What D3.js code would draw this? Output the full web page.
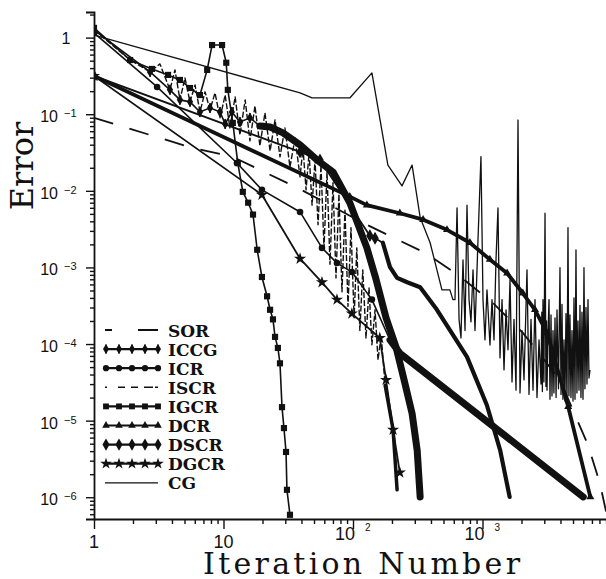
<!DOCTYPE html>
<html>
<head>
<meta charset="utf-8">
<script src="https://cdn.jsdelivr.net/npm/d3@7"></script>
<style>
  body { margin: 0; background: #fff; }
  svg { display: block; }
</style>
</head>
<body>
<div id="chart"></div>
<script>
// ---- data: [iteration, error] ----
const sorData = [[1,0.0896],[5.8,0.0362],[11.8,0.0278],[39,0.0105],[128,0.0036],[360,0.00155],[647,0.0008],
  [1190,0.00035],[2050,0.00014],[3960,0.000034],[6530,0.0000048],[8080,0.0000015],[9000,0.00000065]];

const iccgData = [[1,1.26],[2.71,0.357],[3.86,0.208],[4.61,0.154],[5.51,0.145],[6.58,0.107],[7.87,0.121],
  [9.4,0.107],[10.3,0.0747],[11.6,0.107],[13.4,0.0794],[16.0,0.0896],[19.1,0.0704],[22.9,0.068],[28.8,0.057],
  [39,0.0398],[52.7,0.0253],[70.1,0.0176],[94.5,0.0070],[128,0.0018],[151,0.00069],[180,0.00022],
  [215,0.000091],[248,0.000034],[286,0.0000124],[313,0.0000041],[330,0.00000101]];

const icrData = [[1,1.15],[3.07,0.227],[12.7,0.0231],[19.8,0.0103],[39,0.0053],[57.6,0.0018],[75.2,0.00114],
  [98,0.00087],[140,0.00038],[193,0.000113],[230,0.000076],[6000,0.00000101]];

const iscrData = [[1,1.26],[1.90,0.512],[2.71,0.357],[3.23,0.454],[3.86,0.208],[4.22,0.379],[4.61,0.154],
  [5.04,0.297],[5.51,0.145],[6.03,0.241],[6.58,0.107],[7.20,0.196],[7.87,0.114],[8.6,0.190],[9.4,0.0896],
  [10.3,0.178],[11.2,0.0663],[12.3,0.168],[13.4,0.0537],[14.7,0.154],[16.0,0.0449],[17.5,0.128],[19.1,0.0386],
  [20.9,0.104],[22.9,0.0332],[25.0,0.0843],[27.3,0.0278],[29.8,0.0663],[32.6,0.0204],[35.7,0.049],[39.0,0.0152],
  [41.1,0.0362],[43.4,0.0103],[45.8,0.0313],[48.3,0.0065],[50.9,0.0253],[53.7,0.0036],[56.6,0.0217],[59.7,0.0018],
  [63.0,0.0176],[66.4,0.0011],[70.1,0.0128],[73.9,0.00073],[77.9,0.0091],[82.2,0.00048],[86.7,0.0056],
  [91.5,0.00031],[96.5,0.0033],[102,0.00022],[107,0.0018],[113,0.00015],[119,0.00093],[126,0.00012],
  [133,0.00054],[140,0.000098],[148,0.00028],[156,0.000062],[165,0.00013],[177,0.000029],[204,0.0000076],
  [219,0.00000125]];

const igcrData = [[1,1.34],[1.90,0.51],[2.80,0.39],[3.73,0.326],[4.61,0.28],[5.51,0.22],[6.58,0.178],[7.48,0.379],
  [8.16,0.80],[9.75,0.80],[10.5,0.47],[10.8,0.208],[11.8,0.077],[12.9,0.023],[14.1,0.0097],[15.5,0.007],
  [16.9,0.0049],[18.2,0.0017],[19.8,0.00075],[21.7,0.00042],[22.9,0.00028],[24.1,0.00021],[25.0,0.000124],
  [26.3,0.000089],[27.3,0.000056],[28.3,0.000015],[29.3,0.000008],[30.4,0.0000039],[30.9,0.00000125],
  [32.6,0.00000059]];

const dcrData = [[1,0.316],[94.5,0.0084],[128,0.0065],[230,0.0051],[348,0.0042],[532,0.0031],[800,0.0021],
  [1140,0.00127],[1550,0.00084],[2050,0.00046],[2543,0.00028],[3150,0.00014],[4590,0.0000152],[6800,0.00000101]];

const dscrData = [[1,0.316],[39,0.0322],[55.6,0.0253],[135,0.0026],[148,0.0024],[170,0.0021],[193,0.00101],
  [219,0.00073],[262,0.00064],[330,0.00055],[445,0.00028],[759,0.000068],[1080,0.000016],[1370,0.0000041],
  [1620,0.00000101]];

const dgcrData = [[1,0.316],[19.8,0.0089],[39,0.0013],[57.6,0.00064],[75.2,0.00038],[98,0.00025],[161,0.00012],
  [180,0.000034],[204,0.0000076],[230,0.0000021]];

const cgHead = [[1,1.08],[39,0.19],[48.3,0.163],[94.5,0.163],[140,0.346],[186,0.0217],[239,0.0116],[286,0.0217],
  [330,0.0045],[394,0.0021],[486,0.00051],[560,0.00051],[591,0.00038]];

// CG keeps oscillating until the run stops
const cgNoise = [[613,3.8e-4],[636,6.0e-3],[659,2.1e-4],[682,1.2e-4],[707,1.25e-3],[733,1.5e-4],[759,6.5e-3],
  [787,3.8e-4],[815,1.95e-4],[845,9.3e-4],[875,1.5e-4],[923,2.3e-3],[973,2.8e-2],[1009,3.8e-4],[1045,1.13e-4],
  [1083,5.1e-4],[1142,9.7e-5],[1184,3.8e-4],[1227,1.13e-4],[1271,1.25e-3],[1317,6.0e-3],[1365,6.6e-5],
  [1415,3.8e-4],[1466,4.6e-5],[1519,2.8e-4],[1574,8.4e-5],[1631,6.9e-4],[1690,3.2e-5],[1751,2.1e-4],
  [1815,2.5e-5],[1880,8.4e-2],[1948,2.3e-5],[2019,1.5e-4],[2092,3.4e-5],[2206,9.3e-4],[2286,2.2e-5],
  [2369,2.1e-4],[2455,2.5e-5],[2543,3.8e-4],[2635,2.0e-5],[2731,1.13e-4],[2830,3.0e-5],[2870,2.6e-4],
  [2900,2.4e-5],[2932,3.8e-4],[2980,3.2e-5],[3039,5.1e-3],[3090,2.8e-5],[3120,2.0e-4],[3149,2.5e-5],
  [3200,1.3e-4],[3263,3.8e-4],[3320,1.9e-5],[3381,2.4e-4],[3440,2.1e-5],[3503,1.5e-4],[3560,2.3e-5],
  [3630,2.2e-4],[3700,2.0e-5],[3761,2.8e-4],[3860,2.6e-5],[3966,9.9e-4],[4040,2.2e-5],[4110,3.3e-4],
  [4180,1.9e-5],[4258,1.13e-4],[4330,1.8e-5],[4412,2.5e-4],[4490,1.7e-5],[4572,3.3e-3],[4650,2.1e-5],
  [4737,2.4e-4],[4820,2.0e-5],[4909,1.5e-4],[5000,1.8e-5],[5087,4.0e-4],[5180,1.9e-5],[5271,1.7e-3],
  [5360,2.3e-5],[5461,2.0e-4],[5560,2.5e-5],[5659,3.2e-4],[5760,2.0e-5],[5864,2.6e-4],[5970,1.9e-5],
  [6076,9.9e-4],[6180,2.6e-5],[6296,3.0e-4],[6410,3.0e-5],[6524,3.8e-4],[6640,3.6e-5],[6760,4.6e-5]];

const cgData = cgHead.concat(cgNoise);

const legendNames = ['SOR', 'ICCG', 'ICR', 'ISCR', 'IGCR', 'DCR', 'DSCR', 'DGCR', 'CG'];
const yTickExps = [0, -1, -2, -3, -4, -5, -6];
const xTickExps = [0, 1, 2, 3];

// ---- styles per series ----
const series = [
  { name: 'SOR',  data: sorData,  width: 1.8, dash: '20,17' },
  { name: 'ICCG', data: iccgData, width: 1.6, marker: 'iccg', thickFrom: 12, thickWidth: 7 },
  { name: 'ICR',  data: icrData,  width: 1.6, marker: 'circle', thickFrom: 9, thickWidth: 7 },
  { name: 'ISCR', data: iscrData, width: 1.4, dash: '6,2', thickFrom: 58, thickWidth: 3.5 },
  { name: 'IGCR', data: igcrData, width: 1.6, marker: 'square' },
  { name: 'DCR',  data: dcrData,  width: 3.8, marker: 'triangle' },
  { name: 'DSCR', data: dscrData, width: 1.8, marker: 'dscr', thickFrom: 5, thickWidth: 4.2 },
  { name: 'DGCR', data: dgcrData, width: 1.8, marker: 'star' },
  { name: 'CG',   data: cgData,   width: 1.3 }
];

const W = 606, H = 579;
const INK = '#111';

const svg = d3.select('#chart').append('svg')
  .attr('width', W)
  .attr('height', H);

const x = d3.scaleLog().domain([1, 1e4]).range([94, 612]);
const y = d3.scaleLog().domain([5.2e-7, 2.16]).range([519, 12]);

svg.append('clipPath').attr('id', 'plot-clip')
  .append('rect').attr('x', 94).attr('y', 8).attr('width', W - 94).attr('height', 513);

// ---- axes ----
const yMajor = yTickExps.map(e => Math.pow(10, e));
const yMinor = [];
for (let e = -7; e <= 0; e++) {
  for (let m = 2; m <= 9; m++) {
    const v = m * Math.pow(10, e);
    if (v > 5.2e-7 && v < 2.16) yMinor.push(v);
  }
}
const xMajor = xTickExps.map(e => Math.pow(10, e));
const xMinor = [];
for (let e = 0; e <= 3; e++) {
  for (let m = 2; m <= 9; m++) xMinor.push(m * Math.pow(10, e));
}

function styleAxis(g) {
  g.selectAll('path').attr('stroke', INK).attr('stroke-width', 1.8);
  g.selectAll('line').attr('stroke', INK).attr('stroke-width', 1.4);
}

svg.append('g').attr('transform', 'translate(94,0)')
  .call(d3.axisLeft(y).tickValues(yMajor).tickSize(8).tickSizeOuter(8).tickFormat(''))
  .call(styleAxis);
svg.append('g').attr('transform', 'translate(94,0)')
  .call(d3.axisLeft(y).tickValues(yMinor).tickSize(4).tickSizeOuter(0).tickFormat(''))
  .call(g => g.select('.domain').remove())
  .call(styleAxis);

svg.append('g').attr('transform', 'translate(0,519)')
  .call(d3.axisBottom(x).tickValues(xMajor).tickSize(10).tickSizeOuter(0).tickFormat(''))
  .call(styleAxis);
svg.append('g').attr('transform', 'translate(0,519)')
  .call(d3.axisBottom(x).tickValues(xMinor).tickSize(5).tickSizeOuter(0).tickFormat(''))
  .call(g => g.select('.domain').remove())
  .call(styleAxis);

// y tick labels (10 with raised exponent)
const tickFont = '"Liberation Sans", Arial, sans-serif';
yTickExps.forEach(e => {
  const ty = y(Math.pow(10, e));
  if (e === 0) {
    svg.append('text').attr('x', 66).attr('y', ty + 6)
      .attr('text-anchor', 'middle').attr('font-family', tickFont).attr('font-size', 16)
      .attr('fill', INK).text('1');
  } else {
    svg.append('text').attr('x', 58).attr('y', ty + 8)
      .attr('text-anchor', 'end').attr('font-family', tickFont).attr('font-size', 16)
      .attr('fill', INK).text('10');
    svg.append('text').attr('x', 64).attr('y', ty + 3)
      .attr('font-family', tickFont).attr('font-size', 11)
      .attr('fill', INK).text('\u2212' + (-e));
  }
});

// x tick labels
xTickExps.forEach(e => {
  const tx = x(Math.pow(10, e));
  if (e < 2) {
    svg.append('text').attr('x', tx).attr('y', 548)
      .attr('text-anchor', 'middle').attr('font-family', tickFont).attr('font-size', 18)
      .attr('fill', INK).text(e === 0 ? '1' : '10');
  } else {
    svg.append('text').attr('x', tx + 2).attr('y', 540)
      .attr('text-anchor', 'end').attr('font-family', tickFont).attr('font-size', 18)
      .attr('fill', INK).text('10');
    svg.append('text').attr('x', tx + 12).attr('y', 531)
      .attr('font-family', tickFont).attr('font-size', 10)
      .attr('fill', INK).text(String(e));
  }
});

// axis titles
const titleFont = '"DejaVu Serif", "Liberation Serif", serif';
svg.append('text')
  .attr('transform', 'translate(33,166) rotate(-90)')
  .attr('text-anchor', 'middle')
  .attr('font-family', titleFont).attr('font-size', 32)
  .attr('fill', INK).text('Error');

svg.append('text')
  .attr('x', 203).attr('y', 574)
  .attr('font-family', titleFont).attr('font-size', 30)
  .attr('textLength', 317).attr('lengthAdjust', 'spacing')
  .attr('fill', INK).text('Iteration Number');

// ---- markers ----
function drawMarker(g, type, cx, cy, scale = 1) {
  const sym = (t, s) => d3.symbol().type(t).size(s * scale)();
  const m = g.append('g').attr('transform', `translate(${cx},${cy})`);
  if (type === 'circle') {
    m.append('path').attr('d', sym(d3.symbolCircle, 34)).attr('fill', INK);
  } else if (type === 'square') {
    m.append('path').attr('d', sym(d3.symbolSquare, 38)).attr('fill', INK);
  } else if (type === 'triangle') {
    m.append('path').attr('d', sym(d3.symbolTriangle, 28)).attr('fill', INK);
  } else if (type === 'iccg' || type === 'dscr') {
    const s = type === 'iccg' ? 34 : 48;
    m.append('path').attr('d', sym(d3.symbolDiamond, s)).attr('fill', INK);
    m.append('line').attr('y1', -5 * scale).attr('y2', 5 * scale)
      .attr('stroke', INK).attr('stroke-width', 1.4);
  } else if (type === 'star') {
    m.append('path').attr('d', sym(d3.symbolStar, 46)).attr('fill', INK);
  }
}

// ---- series ----
const line = d3.line().x(d => x(d[0])).y(d => y(d[1]));
const plot = svg.append('g').attr('clip-path', 'url(#plot-clip)');

series.forEach(s => {
  const g = plot.append('g').attr('class', 'series-' + s.name);
  const thinPart = s.thickFrom != null ? s.data.slice(0, s.thickFrom + 1) : s.data;
  g.append('path')
    .datum(thinPart)
    .attr('d', line)
    .attr('fill', 'none')
    .attr('stroke', INK)
    .attr('stroke-width', s.width)
    .attr('stroke-linejoin', 'round')
    .attr('stroke-dasharray', s.dash || null);

  // densely marked stretches print as one heavy stroke
  if (s.thickFrom != null) {
    g.append('path')
      .datum(s.data.slice(s.thickFrom))
      .attr('d', line)
      .attr('fill', 'none')
      .attr('stroke', INK)
      .attr('stroke-width', s.thickWidth)
      .attr('stroke-linejoin', 'round')
      .attr('stroke-linecap', 'round');
  }

  if (s.marker) {
    const pts = s.thickFrom != null ? s.data.slice(0, s.thickFrom) : s.data;
    pts.forEach(d => drawMarker(g, s.marker, x(d[0]), y(d[1])));
  }
});

// ---- legend ----
const legendX0 = 105, legendX1 = 158, legendTop = 330, legendStep = 19.1;
const legendMarkX = [106, 119, 132, 145, 158];
const legend = svg.append('g').attr('class', 'legend');

series.forEach((s, i) => {
  const ly = legendTop + i * legendStep;
  let dash = null;
  if (s.name === 'SOR') dash = '7,26,20';
  if (s.name === 'ISCR') dash = '2,11,7,6,7,6,9';
  legend.append('line')
    .attr('x1', legendX0).attr('x2', legendX1)
    .attr('y1', ly).attr('y2', ly)
    .attr('stroke', INK)
    .attr('stroke-width', s.name === 'CG' ? 1.3 : (s.name === 'ISCR' ? 1.6 : 2.2))
    .attr('stroke-dasharray', dash);
  if (s.marker) {
    legendMarkX.forEach(mx => drawMarker(legend, s.marker, mx, ly, 0.9));
  }
  legend.append('text')
    .attr('x', 168).attr('y', ly + 6.5)
    .attr('font-family', '"DejaVu Serif", serif')
    .attr('font-weight', 'bold')
    .attr('font-size', 17)
    .attr('fill', INK)
    .text(legendNames[i]);
});
</script>
</body>
</html>
